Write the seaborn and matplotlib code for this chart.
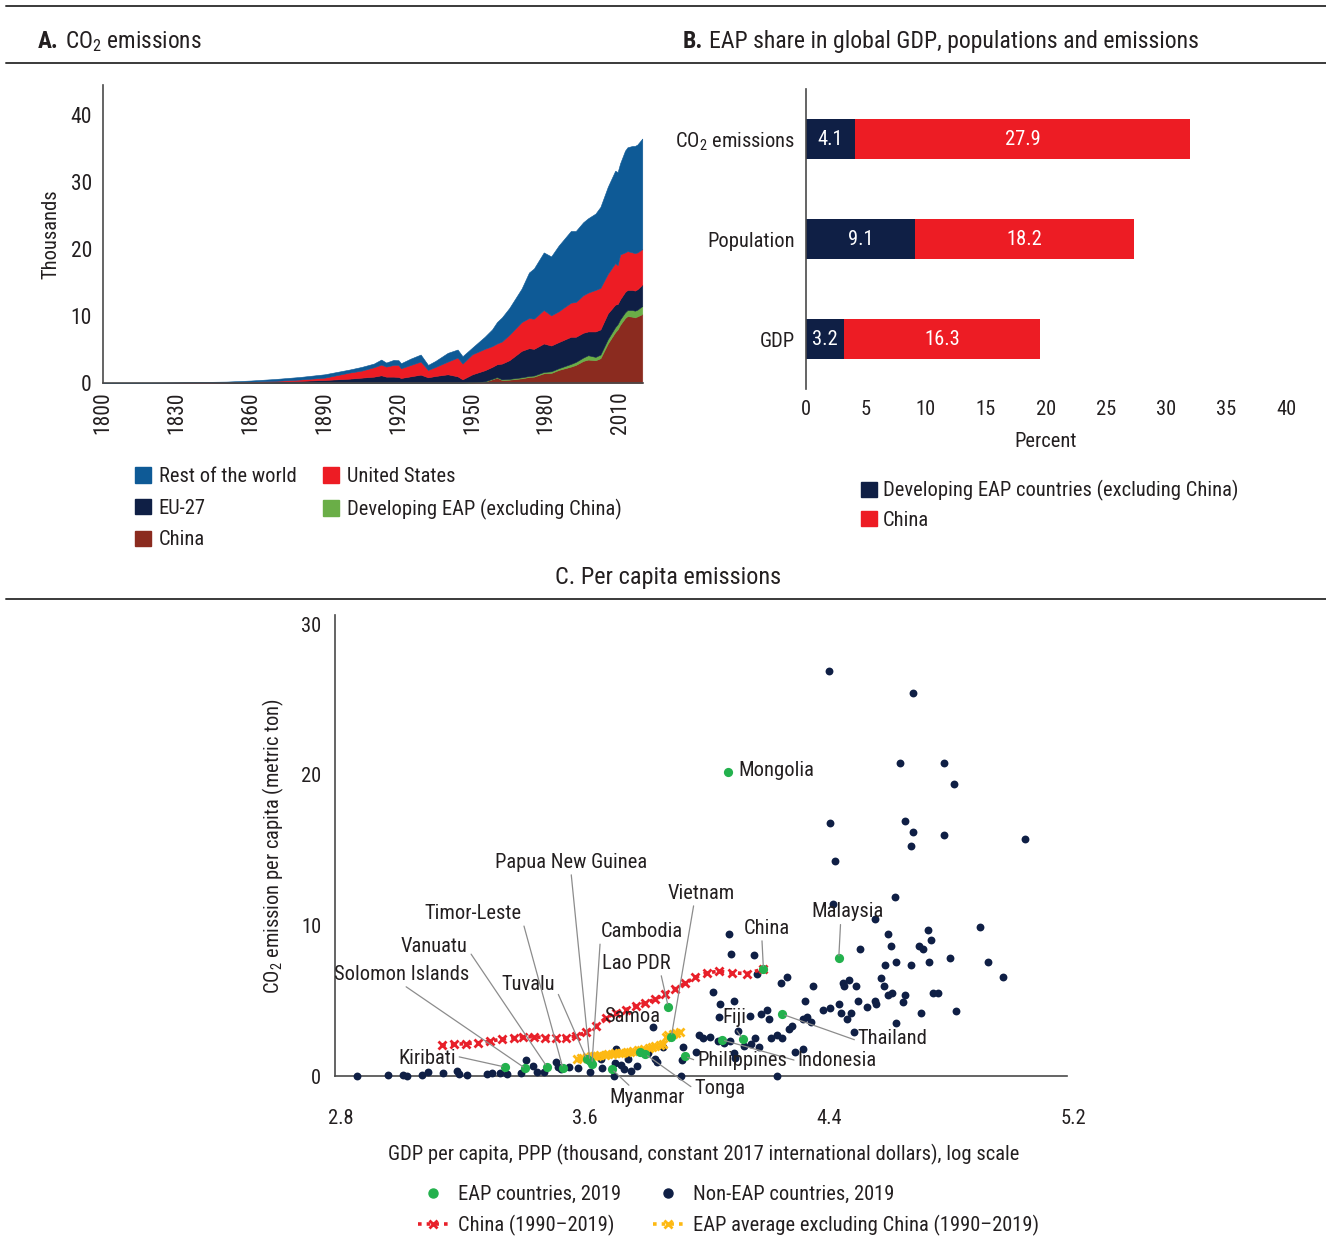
import numpy as np
import pandas as pd
import matplotlib
matplotlib.use("Agg")
import matplotlib.pyplot as plt
import seaborn as sns
from matplotlib.lines import Line2D
from matplotlib.patches import Patch
from matplotlib import font_manager as fm

# ---------------- DATA ----------------
# Panel A: CO2 emissions (thousand Mt), individual contributions per group
years = [1800, 1810, 1820, 1830, 1840, 1850, 1860, 1870, 1880, 1890, 1900, 1905, 1910, 1913,
         1915, 1918, 1920, 1921, 1925, 1929, 1932, 1935, 1940, 1944, 1946, 1950, 1955, 1958,
         1960, 1962, 1965, 1970, 1973, 1975, 1979, 1982, 1985, 1990, 1992, 1995, 1997, 2000,
         2002, 2005, 2008, 2009, 2010, 2012, 2013, 2015, 2016, 2017, 2019]
china_em = [0, 0, 0, 0, 0, 0, 0, 0, 0, 0, 0, 0, 0, 0,
            0, 0, 0, 0, 0, 0, 0, 0, 0, 0, 0, 0.08, 0.2, 0.55,
            0.8, 0.45, 0.5, 0.7, 0.9, 0.95, 1.45, 1.5, 1.95, 2.45, 2.7, 3.3, 3.5, 3.4,
            3.7, 5.9, 7.6, 8.0, 8.7, 9.7, 10.0, 9.9, 9.8, 9.95, 10.3]
eap_em = [0, 0, 0, 0, 0, 0, 0, 0, 0, 0, 0, 0, 0, 0,
          0, 0, 0, 0, 0, 0, 0, 0, 0, 0, 0, 0.04, 0.05, 0.07,
          0.08, 0.10, 0.12, 0.15, 0.15, 0.17, 0.2, 0.25, 0.25, 0.4, 0.45, 0.5, 0.65, 0.5,
          0.55, 0.65, 0.75, 0.8, 0.8, 0.85, 0.9, 1.0, 1.0, 1.0, 1.2]
eu_em = [0.01, 0.01, 0.02, 0.03, 0.05, 0.08, 0.14, 0.22, 0.32, 0.45, 0.65, 0.80, 0.95, 1.15,
         0.95, 0.95, 0.90, 0.75, 1.00, 1.25, 0.85, 1.05, 1.30, 1.00, 0.55, 1.18, 1.65, 1.78,
         1.92, 2.35, 2.78, 3.95, 4.15, 3.98, 4.25, 3.85, 3.9, 4.05, 3.75, 3.7, 3.55, 3.8,
         3.75, 3.85, 3.35, 3.0, 3.0, 3.05, 3.0, 3.0, 3.0, 3.05, 3.2]
us_em = [0.0, 0.0, 0.0, 0.01, 0.02, 0.03, 0.06, 0.10, 0.20, 0.35, 0.90, 1.05, 1.40, 1.60,
         1.50, 1.75, 1.80, 1.45, 1.70, 1.95, 1.10, 1.35, 1.90, 2.80, 2.35, 3.0, 3.2, 3.1,
         3.1, 3.3, 3.8, 4.3, 4.5, 4.5, 5.0, 4.5, 4.6, 5.1, 5.2, 5.6, 5.8, 6.2,
         6.2, 5.9, 6.2, 5.8, 6.7, 5.9, 5.8, 5.6, 5.6, 5.5, 5.3]
row_em = [0.02, 0.03, 0.04, 0.06, 0.09, 0.10, 0.17, 0.28, 0.38, 0.50, 0.45, 0.55, 0.55, 0.75,
          0.60, 0.75, 0.70, 0.75, 0.95, 1.05, 0.75, 0.90, 1.30, 1.20, 1.10, 1.0, 1.8, 2.5,
          3.2, 3.6, 4.0, 5.0, 6.8, 7.5, 8.6, 8.8, 9.8, 10.7, 10.6, 10.9, 11.1, 11.4,
          12.1, 13.0, 13.8, 13.9, 13.6, 15.2, 15.5, 15.9, 16.0, 16.1, 16.5]

# Panel B: EAP share (percent)
b_categories = ["CO$_2$ emissions", "Population", "GDP"]
b_eap_excl_china = [4.1, 9.1, 3.2]
b_china = [27.9, 18.2, 16.3]

# Panel C: log10 GDP per capita vs CO2 per capita
noneap_x = [4.400, 4.676, 4.634, 4.777, 4.810, 4.403, 4.650, 4.676, 4.777, 4.670, 5.041, 4.420,
            4.615, 4.413, 4.550, 4.894, 4.592, 4.725, 4.735, 4.602, 4.696, 4.709, 4.501, 4.072,
            4.078, 4.153, 4.797, 4.920, 4.585, 4.621, 4.670, 4.729, 4.972, 4.163, 4.244, 4.263,
            4.348, 4.446, 4.465, 4.449, 4.488, 4.572, 4.579, 4.592, 4.608, 4.650, 4.741, 4.757,
            4.644, 4.816, 4.702, 4.621, 4.020, 4.042, 4.088, 4.039, 4.140, 4.176, 4.198, 4.202,
            4.322, 4.380, 4.403, 4.433, 4.439, 4.472, 4.459, 4.494, 4.524, 4.550, 4.553, 4.315,
            4.328, 4.341, 4.280, 4.270, 4.481, 4.101, 3.974, 3.987, 4.010, 4.036, 4.055, 4.075,
            4.120, 4.143, 4.159, 4.169, 4.211, 4.231, 4.247, 4.289, 4.315, 4.088, 4.091, 4.228,
            2.852, 2.953, 3.002, 3.018, 3.067, 3.086, 3.135, 3.181, 3.187, 3.213, 3.278, 3.294,
            3.320, 3.343, 3.389, 3.408, 3.431, 3.444, 3.467, 3.506, 3.512, 3.522, 3.548, 3.577,
            3.616, 3.652, 3.655, 3.701, 3.698, 3.694, 3.727, 3.740, 3.772, 3.808, 3.828, 3.824,
            3.857, 3.922, 3.919, 3.915, 3.964, 3.718, 3.750, 3.836]
noneap_y = [26.9, 25.4, 20.8, 20.8, 19.4, 16.8, 16.9, 16.2, 16.0, 15.3, 15.7, 14.3,
            11.9, 11.4, 10.4, 9.9, 9.4, 9.7, 9.0, 8.6, 8.6, 8.4, 8.4, 9.4,
            8.1, 8.0, 7.8, 7.6, 7.4, 7.6, 7.4, 7.6, 6.6, 6.8, 6.2, 6.6,
            6.0, 6.2, 6.4, 6.0, 6.0, 6.5, 6.0, 5.4, 5.5, 5.4, 5.5, 5.5,
            4.9, 4.3, 4.2, 3.5, 5.6, 4.8, 5.0, 3.9, 4.0, 4.1, 4.4, 3.8,
            5.0, 4.4, 4.5, 4.8, 4.2, 4.2, 3.8, 5.0, 4.6, 5.0, 4.8, 3.8,
            3.9, 3.6, 3.3, 3.1, 2.9, 3.0, 2.7, 2.5, 2.6, 2.3, 2.2, 2.3,
            2.0, 2.1, 2.5, 1.9, 2.5, 2.7, 2.5, 1.6, 1.8, 1.5, 1.2, 0.0,
            0.0, 0.05, 0.05, 0.0, 0.05, 0.25, 0.2, 0.3, 0.1, 0.05, 0.1, 0.2,
            0.2, 0.1, 0.2, 1.05, 0.65, 0.25, 0.25, 0.9, 0.6, 0.45, 0.6, 0.5,
            0.25, 1.1, 0.5, 1.8, 0.85, 0.0, 0.45, 1.1, 0.65, 1.5, 1.1, 3.25,
            1.9, 1.9, 1.05, 0.0, 1.6, 0.7, 0.3, 0.9]

eap_names = ["Mongolia", "Malaysia", "China", "Thailand", "Fiji", "Indonesia", "Philippines",
             "Vietnam", "Lao PDR", "Samoa", "Tonga", "Myanmar", "Papua New Guinea", "Cambodia",
             "Tuvalu", "Timor-Leste", "Vanuatu", "Solomon Islands", "Kiribati"]
eap_x = [4.068, 4.432, 4.185, 4.247, 4.117, 4.049, 3.928, 3.883, 3.873, 3.782, 3.798, 3.688,
         3.616, 3.623, 3.606, 3.528, 3.476, 3.405, 3.337]
eap_y = [20.2, 7.8, 7.1, 4.1, 2.45, 2.4, 1.3, 2.6, 4.6, 1.6, 1.45, 0.45,
         1.0, 0.8, 1.1, 0.5, 0.6, 0.5, 0.6]

china_path_x = [3.132, 3.171, 3.210, 3.249, 3.288, 3.327, 3.366, 3.398, 3.434, 3.470, 3.506,
                3.538, 3.571, 3.603, 3.636, 3.668, 3.701, 3.733, 3.766, 3.798, 3.831, 3.863,
                3.896, 3.928, 3.961, 4.000, 4.039, 4.081, 4.130, 4.185]
china_path_y = [2.06, 2.1, 2.15, 2.2, 2.3, 2.45, 2.55, 2.62, 2.6, 2.55, 2.52,
                2.55, 2.65, 2.9, 3.3, 3.85, 4.2, 4.4, 4.65, 4.85, 5.1, 5.45,
                5.8, 6.15, 6.55, 6.85, 6.95, 6.85, 6.8, 7.1]
eapavg_x = [3.575, 3.586, 3.594, 3.607, 3.619, 3.628, 3.641, 3.650, 3.665, 3.675, 3.689, 3.699,
            3.713, 3.722, 3.737, 3.749, 3.758, 3.773, 3.785, 3.794, 3.809, 3.821, 3.830, 3.846,
            3.857, 3.867, 3.873, 3.887, 3.897, 3.910]
eapavg_y = [1.15, 1.2, 1.22, 1.25, 1.3, 1.33, 1.35, 1.38, 1.4, 1.45, 1.48, 1.5,
            1.52, 1.55, 1.6, 1.62, 1.66, 1.7, 1.75, 1.8, 1.85, 1.9, 1.98, 2.05,
            2.15, 2.6, 2.75, 2.8, 2.85, 2.9]

# ---------------- STYLE ----------------
sns.set_theme(style="white")
avail = {f.name for f in fm.fontManager.ttflist}
FONT = "DejaVu Sans"
for cand in ["Roboto Condensed", "Liberation Sans Narrow", "Open Sans Condensed", "Roboto"]:
    if cand in avail:
        FONT = cand
        break
plt.rcParams["font.family"] = [FONT, "DejaVu Sans"]
plt.rcParams["mathtext.fontset"] = "custom"
plt.rcParams["mathtext.rm"] = FONT
plt.rcParams["mathtext.it"] = FONT
plt.rcParams["mathtext.bf"] = FONT + ":bold"
TXT = "#231F20"
SPINE = "#4a4a4a"
plt.rcParams["text.color"] = TXT
FS = 14.8

C_ROW = "#0E5A96"
C_US = "#ED1C24"
C_EU = "#0F1F45"
C_EAP = "#6AAE47"
C_CHN = "#8B2B1F"
C_GREEN = "#23B14D"
C_YEL = "#FDB913"
C_RED = "#E8202A"

W, H = 1326, 1242
fig = plt.figure(figsize=(W / 100, H / 100), dpi=100)
fig.patch.set_facecolor("white")


def fx(px):
    return px / W


def fy(py):
    return 1 - py / H


# rules
for yy in (6, 63, 599):
    fig.add_artist(Line2D([fx(6), fx(1326)], [fy(yy), fy(yy)], color="#3a3a3a", lw=1.4))

renderer = fig.canvas.get_renderer()


def title(x_px, y_px, bold, rest, size=16.8):
    t = fig.text(fx(x_px), fy(y_px), bold, fontsize=size, fontweight="bold", va="baseline", ha="left")
    bb = t.get_window_extent(renderer)
    fig.text((bb.x1 + 6) / W, fy(y_px), rest, fontsize=size, va="baseline", ha="left")


title(38, 48, "A.", "CO$_2$ emissions")
title(683, 48, "B.", "EAP share in global GDP, populations and emissions", size=17.1)
fig.text(fx(668), fy(584), "C. Per capita emissions", fontsize=17.5, ha="center", va="baseline")

# ---------------- PANEL A ----------------
axA = fig.add_axes([fx(103), fy(383), 540 / W, 298 / H])
cols = [C_CHN, C_EAP, C_EU, C_US, C_ROW]
polys = axA.stackplot(years, china_em, eap_em, eu_em, us_em, row_em, colors=cols, linewidth=0)
for p, c in zip(polys, cols):
    p.set_edgecolor(c)
    p.set_linewidth(0.4)
axA.set_xlim(1800, 2019.3)
axA.set_ylim(0, 44.5)
axA.set_xticks(list(range(1800, 2011, 30)))
axA.set_yticks([0, 10, 20, 30, 40])
axA.tick_params(axis="x", length=0, labelsize=15.5, rotation=90, pad=6, colors=TXT)
axA.tick_params(axis="y", length=0, labelsize=15.5, pad=8, colors=TXT)
for s in ("top", "right"):
    axA.spines[s].set_visible(False)
for s in ("left", "bottom"):
    axA.spines[s].set_color(SPINE)
    axA.spines[s].set_linewidth(1.2)
axA.set_ylabel("Thousands", fontsize=FS, color=TXT, labelpad=7)

handlesA = [Patch(color=C_ROW), Patch(color=C_EU), Patch(color=C_CHN), Patch(color=C_US), Patch(color=C_EAP)]
labelsA = ["Rest of the world", "EU-27", "China", "United States", "Developing EAP (excluding China)"]
fig.legend(handlesA, labelsA, loc="upper left", bbox_to_anchor=(fx(135), fy(467)), ncol=2,
           frameon=False, fontsize=FS, handlelength=0.78, handleheight=0.78, handletextpad=0.38,
           columnspacing=1.3, labelspacing=0.62, borderpad=0, borderaxespad=0)

# ---------------- PANEL B ----------------
axB = fig.add_axes([fx(806), fy(389), 480 / W, 300 / H])
dfB = pd.DataFrame({"cat": b_categories, "eap": b_eap_excl_china, "china": b_china})
sns.barplot(data=dfB, y="cat", x="eap", orient="h", color=C_EU, width=0.4, ax=axB,
            saturation=1, linewidth=0)
axB.barh(range(len(b_categories)), b_china, left=b_eap_excl_china, height=0.4, color=C_US, linewidth=0)
for i, (a, c) in enumerate(zip(b_eap_excl_china, b_china)):
    axB.text(a / 2, i, f"{a:.1f}", color="white", ha="center", va="center", fontsize=FS)
    axB.text(a + c / 2, i, f"{c:.1f}", color="white", ha="center", va="center", fontsize=FS)
axB.set_xlim(0, 40)
axB.set_ylim(2.5, -0.5)
axB.set_xticks(list(range(0, 41, 5)))
axB.tick_params(axis="x", length=0, labelsize=FS, pad=8, colors=TXT)
axB.tick_params(axis="y", length=0, labelsize=FS, pad=8, colors=TXT)
axB.set_ylabel("")
axB.set_xlabel("Percent", fontsize=FS, color=TXT, labelpad=9)
for s in ("top", "right", "bottom"):
    axB.spines[s].set_visible(False)
axB.spines["left"].set_color(SPINE)
axB.spines["left"].set_linewidth(1.2)
handlesB = [Patch(color=C_EU), Patch(color=C_US)]
fig.legend(handlesB, ["Developing EAP countries (excluding China)", "China"], loc="upper left",
           bbox_to_anchor=(fx(861), fy(480)), frameon=False, fontsize=FS, handlelength=0.78,
           handleheight=0.78, handletextpad=0.3, labelspacing=0.47, borderpad=0, borderaxespad=0)

# ---------------- PANEL C ----------------
axC = fig.add_axes([fx(335), fy(1076), 738 / W, 461 / H])
sns.scatterplot(x=noneap_x, y=noneap_y, color=C_EU, s=32, linewidth=0, ax=axC, clip_on=False, zorder=3)
sns.lineplot(x=china_path_x, y=china_path_y, sort=False, color=C_RED, lw=2.6, linestyle=(0, (1, 1.4)),
             marker="x", markersize=5.5, markeredgewidth=2.0, markeredgecolor=C_RED, ax=axC, zorder=4)
sns.lineplot(x=eapavg_x, y=eapavg_y, sort=False, color=C_YEL, lw=2.6, linestyle=(0, (1, 1.4)),
             marker="x", markersize=5.5, markeredgewidth=2.0, markeredgecolor=C_YEL, ax=axC, zorder=4)
sns.scatterplot(x=eap_x, y=eap_y, color=C_GREEN, s=44, linewidth=0, ax=axC, clip_on=False, zorder=5)
axC.set_xlim(2.7805, 5.2)
axC.set_ylim(0, 30.6)
axC.spines["bottom"].set_bounds(2.7805, 5.1805)
axC.set_xticks([2.8, 3.6, 4.4, 5.2])
axC.set_xticklabels(["2.8", "3.6", "4.4", "5.2"])
axC.set_yticks([0, 10, 20, 30])
axC.tick_params(axis="x", length=0, labelsize=FS, pad=24, colors=TXT)
axC.tick_params(axis="y", length=0, labelsize=FS, pad=10, colors=TXT)
for s in ("top", "right"):
    axC.spines[s].set_visible(False)
for s in ("left", "bottom"):
    axC.spines[s].set_color(SPINE)
    axC.spines[s].set_linewidth(1.2)
axC.set_xlabel("GDP per capita, PPP (thousand, constant 2017 international dollars), log scale",
               fontsize=FS, color=TXT, labelpad=11)
axC.set_ylabel("CO$_2$ emission per capita (metric ton)", fontsize=FS, color=TXT, labelpad=11)

# label layout: name -> (text_x, text_y, ha, relpos or None)
label_layout = {
    "Mongolia": (4.104, 20.3, "left", None),
    "Papua New Guinea": (3.554, 14.2, "center", (0.5, 0)),
    "Vietnam": (3.980, 12.14, "center", (0.4, 0)),
    "Timor-Leste": (3.392, 10.8, "right", (1, 0.3)),
    "Cambodia": (3.652, 9.6, "left", (0, 0.45)),
    "Vanuatu": (3.216, 8.6, "right", (1, 0.35)),
    "Lao PDR": (3.769, 7.5, "center", (0.85, 0)),
    "Solomon Islands": (2.998, 6.77, "center", (0.5, 0)),
    "Tuvalu": (3.502, 6.1, "right", (1, 0.35)),
    "China": (4.195, 9.82, "center", (0.4, 0)),
    "Malaysia": (4.462, 10.9, "center", (0.4, 0)),
    "Samoa": (3.753, 3.98, "center", None),
    "Fiji": (4.091, 3.85, "center", (0.5, 0)),
    "Thailand": (4.494, 2.52, "left", (0, 0.35)),
    "Philippines": (3.967, 1.0, "left", (0, 0.5)),
    "Indonesia": (4.296, 1.06, "left", (0, 0.45)),
    "Tonga": (3.958, -0.86, "left", (0, 0.5)),
    "Myanmar": (3.805, -1.46, "center", (0.3, 1)),
    "Kiribati": (3.177, 1.19, "right", (1, 0.6)),
}
for name, px_, py_ in zip(eap_names, eap_x, eap_y):
    tx, ty, ha, rp = label_layout[name]
    if rp is None:
        axC.annotate(name, xy=(px_, py_), xytext=(tx, ty), ha=ha, va="center", fontsize=FS,
                     color=TXT, annotation_clip=False, zorder=6)
    else:
        axC.annotate(name, xy=(px_, py_), xytext=(tx, ty), ha=ha, va="center", fontsize=FS,
                     color=TXT, annotation_clip=False, zorder=6,
                     arrowprops=dict(arrowstyle="-", color="#8c8c8c", lw=0.9, relpos=rp,
                                     shrinkA=0, shrinkB=2))

handlesC = [
    Line2D([], [], ls="none", marker="o", color=C_GREEN, markersize=6.5),
    Line2D([0, 1, 2], [0, 0, 0], ls=(0, (1, 1.4)), lw=2.6, marker="x", markevery=[1], color=C_RED,
           markersize=5.5, mew=2.0),
    Line2D([], [], ls="none", marker="o", color=C_EU, markersize=6.5),
    Line2D([0, 1, 2], [0, 0, 0], ls=(0, (1, 1.4)), lw=2.6, marker="x", markevery=[1], color=C_YEL,
           markersize=5.5, mew=2.0),
]
labelsC = ["EAP countries, 2019", "China (1990\u20132019)", "Non-EAP countries, 2019",
           "EAP average excluding China (1990\u20132019)"]
fig.legend(handlesC, labelsC, loc="upper left", bbox_to_anchor=(fx(418), fy(1185)), ncol=2,
           frameon=False, fontsize=FS, handlelength=1.5, handletextpad=0.45, columnspacing=1.55,
           labelspacing=0.51, borderpad=0, borderaxespad=0)

fig.savefig("out.png", dpi=100, facecolor="white")
